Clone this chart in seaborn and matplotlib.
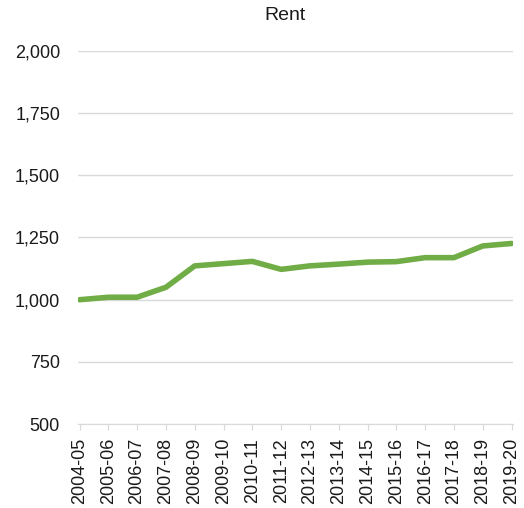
import pandas as pd
import matplotlib.pyplot as plt
import seaborn as sns

# Rent by financial year
years = ["2004-05", "2005-06", "2006-07", "2007-08", "2008-09", "2009-10",
         "2010-11", "2011-12", "2012-13", "2013-14", "2014-15", "2015-16",
         "2016-17", "2017-18", "2018-19", "2019-20"]
rent = [1000, 1010, 1010, 1050, 1136, 1145, 1154, 1122, 1136, 1143,
        1151, 1153, 1169, 1169, 1216, 1226]

df = pd.DataFrame({"year": years, "rent": rent})

sns.set_style("white")
plt.rcParams["font.family"] = ["Liberation Sans", "DejaVu Sans"]

fig, ax = plt.subplots(figsize=(5.24, 5.08), dpi=100)
fig.subplots_adjust(left=0.149, right=0.979, top=0.9, bottom=0.165)

ax.set_ylim(500, 2000)
ax.set_yticks(range(500, 2001, 250))
ax.yaxis.grid(True, color="#d9d9d9", linewidth=1)
ax.set_axisbelow(True)

sns.lineplot(data=df, x="year", y="rent", ax=ax, color="#70ad47", linewidth=4,
             sort=False)

ax.set_xlim(-0.05, len(years) - 0.95)
ax.set_yticklabels([f"{v:,}" for v in range(500, 2001, 250)])
ax.tick_params(axis="x", rotation=90, labelsize=13, length=4, color="#d9d9d9",
               bottom=True, pad=6, labelcolor="#1a1a1a")
ax.tick_params(axis="y", labelsize=13, length=0, pad=13, labelcolor="#1a1a1a")
for side in ["top", "right", "left"]:
    ax.spines[side].set_visible(False)
ax.spines["bottom"].set_color("#d9d9d9")
ax.set_xlabel("")
ax.set_ylabel("")
ax.set_title("Rent", fontsize=14, pad=22, color="#1a1a1a", x=0.476)

fig.savefig("out.png", dpi=100)
